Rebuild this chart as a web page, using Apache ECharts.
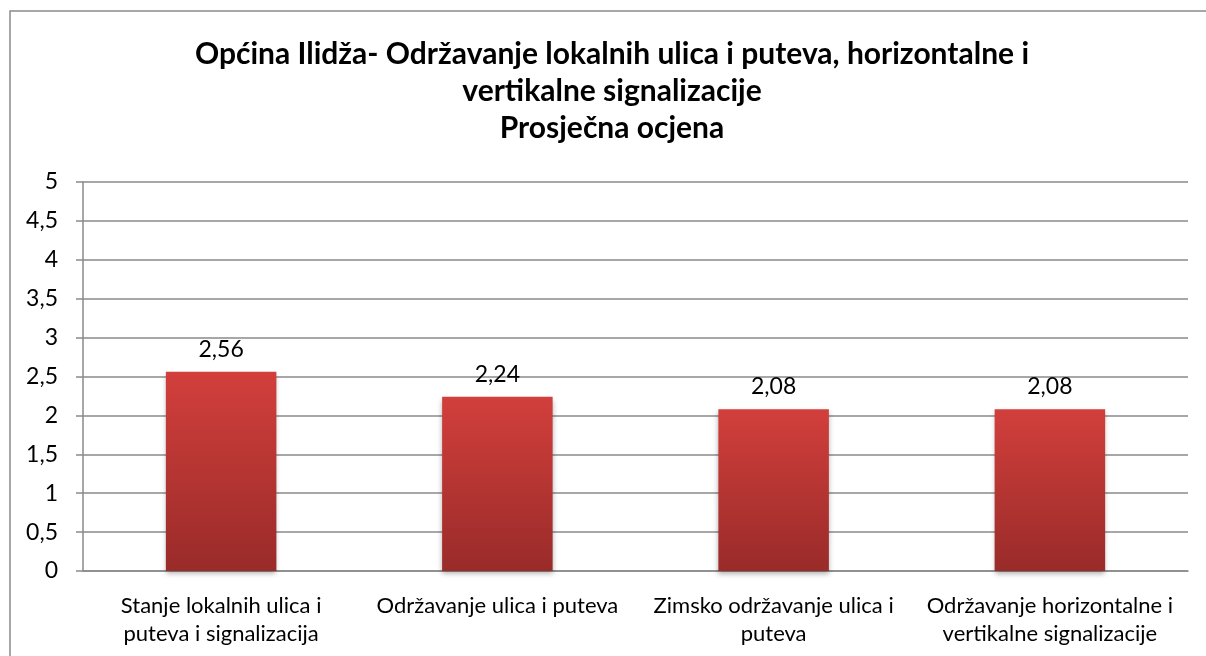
<!DOCTYPE html>
<html>
<head>
<meta charset="utf-8">
<script src="https://cdn.jsdelivr.net/npm/echarts@6/dist/echarts.min.js"></script>
<style>
    html, body { margin: 0; padding: 0; background: #fff; }
    #chart { width: 1206px; height: 656px; }
</style>
</head>
<body>
<div id="chart"></div>
<script>
    const titleText = 'Općina Ilidža- Održavanje lokalnih ulica i puteva, horizontalne i\nvertikalne signalizacije\nProsječna ocjena';
    const categories = [
        'Stanje lokalnih ulica i\nputeva i signalizacija',
        'Održavanje ulica i puteva',
        'Zimsko održavanje ulica i\nputeva',
        'Održavanje horizontalne i\nvertikalne signalizacije'
    ];
    const values = [2.56, 2.24, 2.08, 2.08];
    const yTicks = { min: 0, max: 5, interval: 0.5 };

    const font = 'Lato, "Open Sans", sans-serif';
    const fmt = v => String(v).replace('.', ',');

    const myChart = echarts.init(document.getElementById('chart'));
    myChart.setOption({
        animation: false,
        textStyle: { fontFamily: font },
        graphic: [{
            type: 'rect',
            shape: { x: 10, y: 11, width: 1240, height: 700 },
            style: { fill: 'none', stroke: '#8a8a8a', lineWidth: 1.5 },
            silent: true
        }],
        title: {
            text: titleText,
            left: 607,
            textAlign: 'center',
            top: 31,
            textStyle: {
                fontFamily: font,
                fontSize: 30,
                fontWeight: 'bold',
                color: '#000',
                lineHeight: 37
            }
        },
        grid: { left: 83, right: 18, top: 182, bottom: 85 },
        xAxis: {
            type: 'category',
            data: categories,
            axisTick: { show: false },
            axisLine: { lineStyle: { color: '#8a8a8a', width: 1.5 } },
            axisLabel: {
                interval: 0,
                margin: 21,
                color: '#000',
                fontSize: 22,
                lineHeight: 28,
                fontFamily: font
            }
        },
        yAxis: {
            type: 'value',
            min: yTicks.min,
            max: yTicks.max,
            interval: yTicks.interval,
            axisLine: { show: true, lineStyle: { color: '#8a8a8a', width: 1.5 } },
            axisTick: { show: true, length: 7, lineStyle: { color: '#8a8a8a', width: 1.5 } },
            splitLine: { lineStyle: { color: '#8a8a8a', width: 1.5 } },
            axisLabel: {
                margin: 25,
                color: '#000',
                fontSize: 23,
                fontFamily: font,
                formatter: fmt
            }
        },
        series: [{
            type: 'bar',
            data: values,
            barWidth: '40%',
            itemStyle: {
                color: new echarts.graphic.LinearGradient(0, 0, 0, 1, [
                    { offset: 0, color: '#d23f3c' },
                    { offset: 1, color: '#992b29' }
                ]),
                shadowColor: 'rgba(0,0,0,0.3)',
                shadowBlur: 5,
                shadowOffsetY: 3
            },
            label: {
                show: true,
                position: 'top',
                distance: 11,
                color: '#000',
                fontSize: 23,
                fontFamily: font,
                formatter: p => fmt(p.value)
            }
        }]
    });
</script>
</body>
</html>
